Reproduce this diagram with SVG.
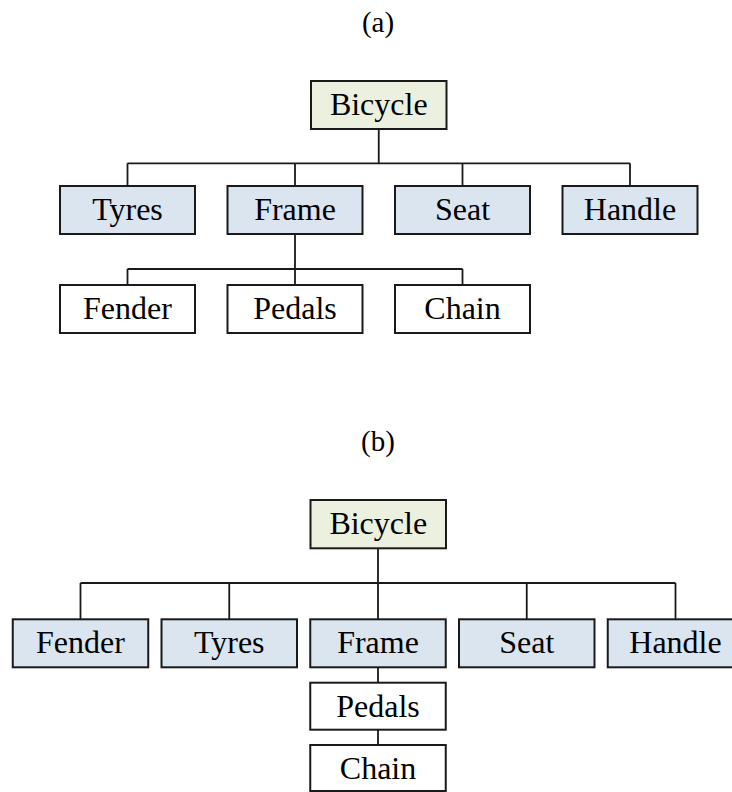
<svg xmlns="http://www.w3.org/2000/svg" width="732" height="792" viewBox="0 0 732 792">
  <style>
    .box { stroke: #1a1a1a; stroke-width: 2; }
    .root { fill: #EBF1DE; }
    .part { fill: #DAE5EF; }
    .sub { fill: #FFFFFF; }
    .lbl { font-family: "Liberation Serif", "Times New Roman", serif; font-size: 32px; fill: #000; text-anchor: middle; }
    .cap { font-family: "Liberation Serif", "Times New Roman", serif; font-size: 29px; fill: #000; text-anchor: middle; }
    .wire { fill: none; stroke: #1a1a1a; stroke-width: 1.8; }
  </style>
  <rect width="732" height="792" fill="#FFFFFF"/>

  <!-- Tree (a): frame owns fender, pedals and chain -->
  <text class="cap" x="378" y="31.5">(a)</text>

  <g id="a-connectors">
    <path class="wire" d="M378.75 129 V163.3 M127.5 163.3 H630 M127.5 163.3 V186 M295 163.3 V186 M462.5 163.3 V186 M630 163.3 V186"/>
    <path class="wire" d="M295 234 V269 M127.5 269 H462.5 M127.5 269 V285 M295 269 V285 M462.5 269 V285"/>
  </g>

  <g id="a-bicycle"><rect class="box root" x="311" y="81" width="135.5" height="48"/><text class="lbl" x="378.75" y="115">Bicycle</text></g>
  <g id="a-tyres"><rect class="box part" x="60" y="186" width="135" height="48"/><text class="lbl" x="127.5" y="220">Tyres</text></g>
  <g id="a-frame"><rect class="box part" x="227.5" y="186" width="135" height="48"/><text class="lbl" x="295" y="220">Frame</text></g>
  <g id="a-seat"><rect class="box part" x="395" y="186" width="135" height="48"/><text class="lbl" x="462.5" y="220">Seat</text></g>
  <g id="a-handle"><rect class="box part" x="562.5" y="186" width="135" height="48"/><text class="lbl" x="630" y="220">Handle</text></g>
  <g id="a-fender"><rect class="box sub" x="60" y="285" width="135" height="48"/><text class="lbl" x="127.5" y="319">Fender</text></g>
  <g id="a-pedals"><rect class="box sub" x="227.5" y="285" width="135" height="48"/><text class="lbl" x="295" y="319">Pedals</text></g>
  <g id="a-chain"><rect class="box sub" x="395" y="285" width="135" height="48"/><text class="lbl" x="462.5" y="319">Chain</text></g>

  <!-- Tree (b): fender moved up, pedals and chain stacked under frame -->
  <text class="cap" x="378" y="451">(b)</text>

  <g id="b-connectors">
    <path class="wire" d="M378 548 V583 M80.5 583 H675.5 M80.5 583 V619.3 M229.25 583 V619.3 M378 583 V619.3 M526.75 583 V619.3 M675.5 583 V619.3"/>
    <path class="wire" d="M378 667.3 V682.7 M378 729.5 V745"/>
  </g>

  <g id="b-bicycle"><rect class="box root" x="310.5" y="500" width="135.5" height="48.3"/><text class="lbl" x="378.25" y="534">Bicycle</text></g>
  <g id="b-fender"><rect class="box part" x="12.75" y="619.3" width="135.5" height="48"/><text class="lbl" x="80.5" y="653.2">Fender</text></g>
  <g id="b-tyres"><rect class="box part" x="161.5" y="619.3" width="135.5" height="48"/><text class="lbl" x="229.25" y="653.2">Tyres</text></g>
  <g id="b-frame"><rect class="box part" x="310.25" y="619.3" width="135.5" height="48"/><text class="lbl" x="378" y="653.2">Frame</text></g>
  <g id="b-seat"><rect class="box part" x="459" y="619.3" width="135.5" height="48"/><text class="lbl" x="526.75" y="653.2">Seat</text></g>
  <g id="b-handle"><rect class="box part" x="607.75" y="619.3" width="135.5" height="48"/><text class="lbl" x="675.5" y="653.2">Handle</text></g>
  <g id="b-pedals"><rect class="box sub" x="310.25" y="682.7" width="135.5" height="47"/><text class="lbl" x="378" y="716.5">Pedals</text></g>
  <g id="b-chain"><rect class="box sub" x="310.25" y="745" width="135.5" height="46"/><text class="lbl" x="378" y="779">Chain</text></g>
</svg>
